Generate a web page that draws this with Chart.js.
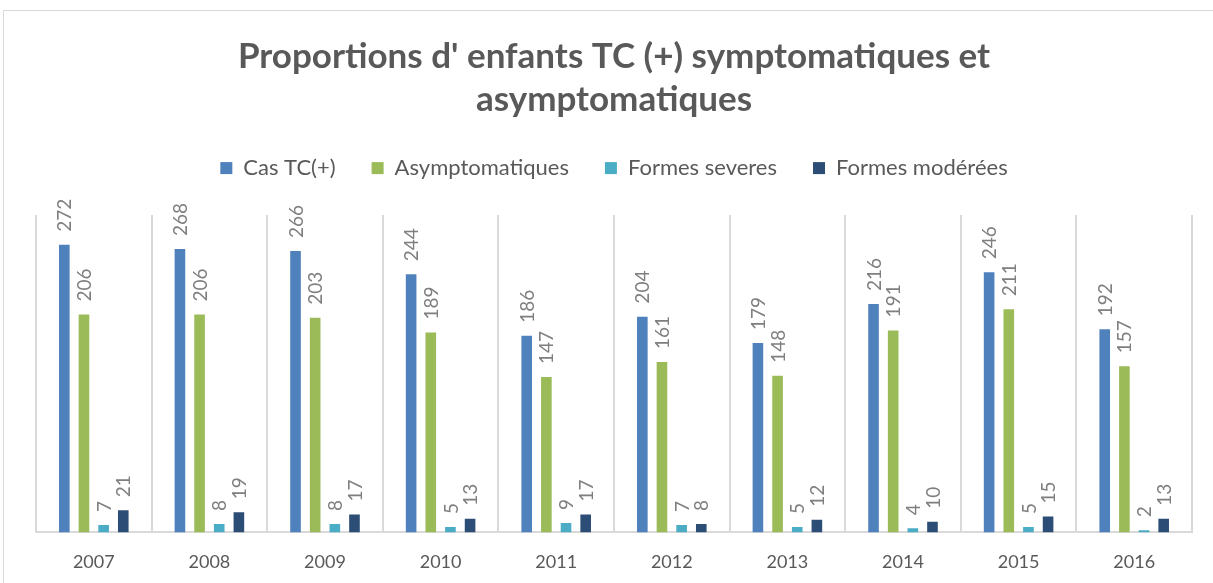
<!DOCTYPE html>
<html>
<head>
<meta charset="utf-8">
<script src="https://cdn.jsdelivr.net/npm/chart.js@4"></script>
<style>
  body { margin: 0; background: #fff; overflow: hidden; }
  #wrap { position: absolute; left: 3px; top: 10px; border: 1px solid #d9d9d9; }
  canvas { display: block; }
</style>
</head>
<body>
<div id="wrap"><canvas id="chart" width="1215" height="585"></canvas></div>
<script>
var years = ["2007", "2008", "2009", "2010", "2011", "2012", "2013", "2014", "2015", "2016"];
var casTC = [272, 268, 266, 244, 186, 204, 179, 216, 246, 192];
var asymptomatiques = [206, 206, 203, 189, 147, 161, 148, 191, 211, 157];
var formesSeveres = [7, 8, 8, 5, 9, 7, 5, 4, 5, 2];
var formesModerees = [21, 19, 17, 13, 17, 8, 12, 10, 15, 13];

var fontFamily = "'Lato', 'Open Sans', sans-serif";

// values written vertically above each bar
var barLabels = {
    id: "barLabels",
    afterDatasetsDraw: function (chart) {
        var ctx = chart.ctx;
        ctx.save();
        ctx.font = "19px " + fontFamily;
        ctx.fillStyle = "#7f7f7f";
        ctx.textAlign = "left";
        ctx.textBaseline = "middle";
        chart.data.datasets.forEach(function (ds, i) {
            chart.getDatasetMeta(i).data.forEach(function (bar, j) {
                ctx.save();
                ctx.translate(bar.x + 1, bar.y - 13);
                ctx.rotate(-Math.PI / 2);
                ctx.fillText(ds.data[j], 0, 0);
                ctx.restore();
            });
        });
        ctx.restore();
    },
};

// extra room between legend and plot
var legendGap = {
    id: "legendGap",
    beforeInit: function (chart) {
        var fit = chart.legend.fit;
        chart.legend.fit = function () {
            fit.call(this);
            this.height += 26;
        };
    },
};

new Chart(document.getElementById("chart"), {
    type: "bar",
    data: {
        labels: years,
        datasets: [
            { label: "Cas TC(+)", data: casTC, backgroundColor: "#4f81bd" },
            { label: "Asymptomatiques", data: asymptomatiques, backgroundColor: "#9bbb59" },
            { label: "Formes severes", data: formesSeveres, backgroundColor: "#4bacc6" },
            { label: "Formes modérées", data: formesModerees, backgroundColor: "#2c4d75" },
        ],
    },
    options: {
        responsive: false,
        animation: false,
        categoryPercentage: 0.68,
        barPercentage: 0.54,
        layout: {
            padding: { left: 32, right: 27, top: 0, bottom: 4 },
        },
        plugins: {
            title: {
                display: true,
                text: ["Proportions d' enfants TC (+) symptomatiques et", "asymptomatiques"],
                color: "#595959",
                font: { family: fontFamily, size: 35, weight: "bold", lineHeight: 1.23 },
                padding: { top: 24, bottom: 0 },
            },
            legend: {
                position: "top",
                labels: {
                    color: "#595959",
                    font: { family: fontFamily, size: 22 },
                    boxWidth: 12,
                    boxHeight: 12,
                    padding: 36,
                },
            },
            tooltip: { enabled: false },
        },
        scales: {
            x: {
                grid: { color: "#d9d9d9", lineWidth: 2, drawTicks: false },
                border: { color: "#d9d9d9", width: 2 },
                ticks: {
                    color: "#595959",
                    font: { family: fontFamily, size: 18 },
                    padding: 19,
                },
            },
            y: {
                display: false,
                min: 0,
                max: 300,
            },
        },
    },
    plugins: [barLabels, legendGap],
});
</script>
</body>
</html>
